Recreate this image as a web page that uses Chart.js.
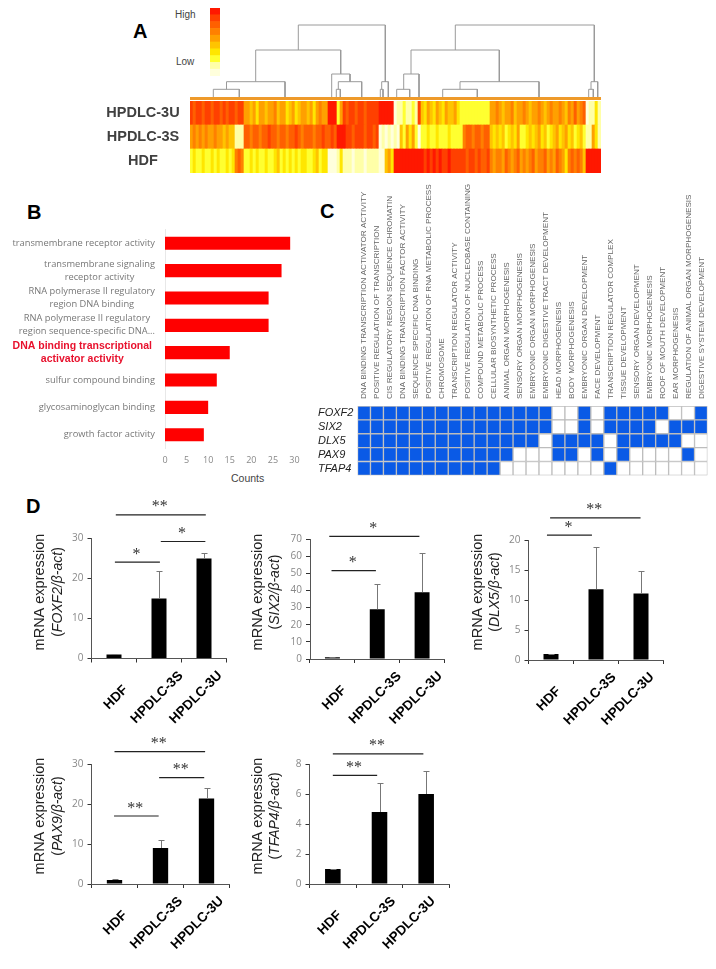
<!DOCTYPE html>
<html>
<head>
<meta charset="utf-8">
<script src="https://cdn.jsdelivr.net/npm/chart.js@4/dist/chart.umd.min.js"></script>
<style>
  html, body { margin: 0; background: #fff; }
  #page { position: relative; width: 716px; height: 969px; overflow: hidden; font-family: "Liberation Sans", Arial, sans-serif; }
  #page canvas { position: absolute; }
  .txt { position: absolute; white-space: nowrap; }
  .letter { font-weight: bold; font-size: 20px; color: #000; }
</style>
</head>
<body>
<div id="page">
  <div class="txt letter" style="left:133px;top:20px">A</div>
  <div class="txt letter" style="left:27px;top:201px">B</div>
  <div class="txt letter" style="left:320px;top:200px">C</div>
  <div class="txt letter" style="left:26px;top:495px">D</div>
  <div class="txt" style="left:175px;top:9px;font-size:10px;color:#444">High</div>
  <div class="txt" style="left:176px;top:56px;font-size:10px;color:#444">Low</div>
  <div class="txt" style="left:231px;top:472px;font-size:10.5px;color:#444">Counts</div>
</div>
<script>
// Panel A: heat levels 0-9, one value per column, grouped by block
const heatRows = ['HPDLC-3U', 'HPDLC-3S', 'HDF'];
const heat3U = [
  8,7,8,8,7,8,8,7,8,8,7,8,7,8,8,7,8,8,
  5,5,4,5,3,5,5,4,5,5,6,4,5,5,3,4,5,3,4,5,5,4,5,3,5,6,5,5,
  9,9,9,
  2,5,
  8,7,8,8,7,8,8,7,8,8,8,8,
  9,9,9,9,9,
  0,1,
  1,2,1,1,2,1,
  8,
  4,3,5,4,3,5,4,3,5,4,4,5,3,
  2,2,2,2,2,2,2,2,2,2,
  5,5,6,5,4,5,5,6,4,5,5,6,5,4,5,5,6,5,4,5,6,5,5,6,5,4,6,5,7,5,6,7,
  0,1,1,3,1
];
const heat3S = [
  5,6,5,6,5,6,5,5,6,5,5,4,5,4,4,1,1,1,
  7,7,6,7,7,6,7,7,8,7,7,6,7,7,6,7,7,8,7,6,7,7,7,6,7,7,8,7,
  7,8,7,
  9,9,
  9,8,8,7,8,8,8,7,8,8,7,8,
  0,1,0,1,0,
  1,0,
  4,2,5,3,5,2,
  0,
  2,2,3,2,2,3,2,2,2,3,2,2,2,
  2,6,7,7,6,7,7,6,7,7,
  4,3,4,3,4,2,3,4,3,5,2,2,3,4,3,4,5,3,4,2,3,4,5,3,4,5,3,4,2,3,4,2,
  1,1,5,3,1
];
const heatHDF = [
  2,3,2,2,3,2,2,3,2,3,2,2,3,2,3,6,7,6,
  2,2,3,2,3,2,2,3,2,2,3,4,2,3,2,3,2,3,2,3,3,2,2,3,4,2,3,3,
  0,0,0,
  1,3,
  1,1,1,0,1,1,1,0,1,1,1,1,
  0,0,4,5,3,
  9,9,
  9,9,9,9,9,9,
  9,
  9,8,9,8,9,8,9,8,8,9,8,8,8,
  8,8,7,8,8,7,8,7,7,8,
  6,5,6,6,5,7,6,5,6,7,5,6,5,6,7,5,6,6,7,5,6,5,7,6,5,3,6,7,6,7,6,4,
  9,9,9,9,9
];
const legendLevels = [9, 8, 7, 6, 5, 4, 3, 2, 1, 0];
// dendrogram joins: left leaf, right leaf, join height, left foot, right foot
const dendroMerges = [
  [23.3, 49.3, 7.7, 0, 0], [36.5, 95, 15.3, 7.7, 0],
  [146.3, 150.3, 7.7, 0, 0], [148.3, 171.7, 15.3, 7.7, 0], [141.7, 160, 23, 0, 15.3],
  [65.7, 150.7, 47, 15.3, 23],
  [190.3, 193, 7.7, 0, 0], [191.7, 198.3, 15.3, 7.7, 0],
  [108.3, 195.3, 72, 47, 15.3],
  [206.7, 219.7, 7.7, 0, 0], [213.7, 229, 23, 7.7, 0],
  [252.7, 287.3, 7.7, 0, 0], [270, 349, 15.3, 7.7, 0],
  [221, 309.3, 47, 23, 15.3],
  [398.7, 403.3, 7.7, 0, 0], [401, 407.7, 15.3, 7.7, 0],
  [265.3, 404.3, 72, 47, 15.3]
];

// Panel B
const goTerms = [
  ['transmembrane receptor activity'],
  ['transmembrane signaling', 'receptor activity'],
  ['RNA polymerase II regulatory', 'region DNA binding'],
  ['RNA polymerase II regulatory', 'region sequence-specific DNA...'],
  ['DNA binding transcriptional', 'activator activity'],
  ['sulfur compound binding'],
  ['glycosaminoglycan binding'],
  ['growth factor activity']
];
const goCounts = [29, 27, 24, 24, 15, 12, 10, 9];
const goHighlight = 4;

// Panel C
const enrichGenes = ['FOXF2', 'SIX2', 'DLX5', 'PAX9', 'TFAP4'];
const enrichTerms = [
  'DNA BINDING TRANSCRIPTION ACTIVATOR ACTIVITY', 'POSITIVE REGULATION OF TRANSCRIPTION',
  'CIS REGULATORY REGION SEQUENCE CHROMATIN', 'DNA BINDING TRANSCRIPTION FACTOR ACTIVITY',
  'SEQUENCE SPECIFIC DNA BINDING', 'POSITIVE REGULATION OF RNA METABOLIC PROCESS',
  'CHROMOSOME', 'TRANSCRIPTION REGULATOR ACTIVITY',
  'POSITIVE REGULATION OF NUCLEOBASE CONTAINING', 'COMPOUND METABOLIC PROCESS',
  'CELLULAR BIOSYNTHETIC PROCESS', 'ANIMAL ORGAN MORPHOGENESIS',
  'SENSORY ORGAN MORPHOGENESIS', 'EMBRYONIC ORGAN MORPHOGENESIS',
  'EMBRYONIC DIGESTIVE TRACT DEVELOPMENT', 'HEAD MORPHOGENESIS',
  'BODY MORPHOGENESIS', 'EMBRYONIC ORGAN DEVELOPMENT',
  'FACE DEVELOPMENT', 'TRANSCRIPTION REGULATOR COMPLEX',
  'TISSUE DEVELOPMENT', 'SENSORY ORGAN DEVELOPMENT',
  'EMBRYONIC MORPHOGENESIS', 'ROOF OF MOUTH DEVELOPMENT',
  'EAR MORPHOGENESIS', 'REGULATION OF ANIMAL ORGAN MORPHOGENESIS',
  'DIGESTIVE SYSTEM DEVELOPMENT'
];
const cellsFOXF2 = [1,1,1,1,1,1,1,1,1,1,1,1,1,1,1,0,0,1,0,1,1,1,1,1,0,0,1];
const cellsSIX2  = [1,1,1,1,1,1,1,1,1,1,1,1,1,1,1,0,0,1,0,1,1,1,1,0,1,1,1];
const cellsDLX5  = [1,1,1,1,1,1,1,1,1,1,1,1,1,1,0,1,1,1,1,0,1,1,1,1,1,0,0];
const cellsPAX9  = [1,1,1,1,1,1,1,1,1,1,1,1,0,0,0,1,1,0,1,0,1,0,0,0,0,1,0];
const cellsTFAP4 = [1,1,1,1,1,1,1,1,1,1,1,0,0,0,0,0,0,0,0,1,0,0,0,0,0,0,0];

// Panel D: means, top of error bar, significance lines [from, to, value level, stars]
const groups = ['HDF', 'HPDLC-3S', 'HPDLC-3U'];
const foxf2Mean = [1, 15, 25];
const foxf2Top = [1.1, 22, 26.5];
const foxf2Sig = [[0.04, 2.04, 35.9, '**'], [1.04, 2.03, 29.25, '*'], [0.02, 1.02, 24.1, '*']];
const six2Mean = [1, 29, 39];
const six2Top = [1.2, 44, 62];
const six2Sig = [[-0.07, 1.94, 71.5, '*'], [-0.02, 0.97, 51.6, '*']];
const dlx5Mean = [1, 11.8, 11.1];
const dlx5Top = [1.05, 18.8, 14.9];
const dlx5Sig = [[-0.02, 1.99, 23.7, '**'], [-0.09, 0.91, 20.8, '*']];
const pax9Mean = [1, 9, 21.4];
const pax9Top = [1.2, 11, 24.1];
const pax9Sig = [[0, 1.97, 33.1, '**'], [0.97, 1.95, 26.6, '**'], [-0.01, 0.96, 17, '**']];
const tfap4Mean = [1, 4.8, 6];
const tfap4Top = [1.02, 6.75, 7.55];
const tfap4Sig = [[0, 1.94, 8.67, '**'], [0, 0.95, 7.24, '**']];

const heatColors = ['#FFFFDC', '#FFFFA8', '#FFFF30', '#FFE600', '#FFC400', '#FFA000', '#FF8000', '#FF6000', '#FF4000', '#FF1800'];
const SANS = '"Liberation Sans", Arial, sans-serif';
const TICK = '"Open Sans", sans-serif';

Chart.defaults.animation = false;
Chart.defaults.responsive = false;
Chart.defaults.devicePixelRatio = 1;
Chart.defaults.plugins.legend.display = false;
Chart.defaults.plugins.tooltip.enabled = false;

function addCanvas(left, top, width, height) {
    const c = document.createElement('canvas');
    c.width = width;
    c.height = height;
    c.style.left = left + 'px';
    c.style.top = top + 'px';
    document.getElementById('page').appendChild(c);
    return c.getContext('2d');
}

// labels are clipped to the axis box, so the box gets the whole margin
const fixWidth = w => s => { s.width = w; };
const fixHeight = h => s => { s.height = h; };
const hiddenGrid = { display: false, drawTicks: false };

// legend colour bar
new Chart(addCanvas(210, 8, 10, 68), {
    type: 'bar',
    data: {
        labels: legendLevels,
        datasets: [{
            data: legendLevels.map(() => 1),
            backgroundColor: legendLevels.map(l => heatColors[l]),
            barPercentage: 1,
            categoryPercentage: 1
        }]
    },
    options: {
        indexAxis: 'y',
        layout: { autoPadding: false },
        scales: { x: { display: false, min: 0, max: 1 }, y: { display: false } }
    }
});

// dendrogram and the orange strip under it
new Chart(addCanvas(190, 24, 411, 76), {
    type: 'scatter',
    data: {
        datasets: dendroMerges.map(m => ({
            data: [{ x: m[0], y: m[3] }, { x: m[0], y: m[2] }, { x: m[1], y: m[2] }, { x: m[1], y: m[4] }],
            showLine: true,
            borderColor: '#9a9a9a',
            borderWidth: 1,
            pointRadius: 0,
            clip: false
        })).concat([{
            data: [{ x: 0, y: -1.5 }, { x: 411, y: -1.5 }],
            showLine: true,
            borderColor: '#EE9A2A',
            borderWidth: 3,
            pointRadius: 0
        }])
    },
    options: {
        layout: { autoPadding: false },
        scales: { x: { display: false, min: 0, max: 411 }, y: { display: false, min: -3, max: 73 } }
    }
});

// heat map: stacked columns, one colour per level, row names drawn beside the scale
const heatSeries = [heatHDF, heat3S, heat3U];
const heatLabelPlugin = {
    id: 'heatLabels',
    afterDraw(chart) {
        const ctx = chart.ctx;
        const y = chart.scales.y;
        ctx.save();
        ctx.font = 'bold 14.5px ' + SANS;
        ctx.fillStyle = '#404040';
        ctx.textAlign = 'center';
        ctx.textBaseline = 'middle';
        heatRows.forEach((name, i) => ctx.fillText(name, 53, y.getPixelForValue(2.5 - i)));
        ctx.restore();
    }
};
new Chart(addCanvas(90, 100, 511, 74), {
    type: 'bar',
    data: {
        labels: heat3U.map((_, i) => i),
        datasets: heatSeries.map(row => ({
            data: row.map(() => 1),
            backgroundColor: row.map(l => heatColors[l]),
            barPercentage: 1,
            categoryPercentage: 1
        }))
    },
    options: {
        layout: { autoPadding: false, padding: { left: 100, top: 1, bottom: 1 } },
        scales: {
            x: { display: false, stacked: true },
            y: { display: false, stacked: true, min: 0, max: 3 }
        }
    },
    plugins: [heatLabelPlugin]
});

// Panel B labels: block sits right aligned, lines centred inside it
const goLabelPlugin = {
    id: 'goLabels',
    afterDraw(chart) {
        const ctx = chart.ctx;
        const y = chart.scales.y;
        const right = y.right - 10;
        ctx.save();
        ctx.textAlign = 'center';
        ctx.textBaseline = 'middle';
        goTerms.forEach((lines, i) => {
            const on = i === goHighlight;
            ctx.font = on ? 'bold 10.5px ' + SANS : '9.3px ' + TICK;
            ctx.fillStyle = on ? '#E8112D' : '#777';
            const w = Math.max(...lines.map(l => ctx.measureText(l).width));
            const cx = right - (on ? 3 : 0) - w / 2;
            const cy = y.getPixelForTick(i);
            lines.forEach((l, k) => ctx.fillText(l, cx, cy + (k - (lines.length - 1) / 2) * 13));
        });
        ctx.restore();
    }
};
new Chart(addCanvas(0, 220, 320, 250), {
    type: 'bar',
    data: {
        labels: goTerms.map(t => t.join(' ')),
        datasets: [{ data: goCounts, backgroundColor: '#FF0000', barPercentage: 0.48, categoryPercentage: 1 }]
    },
    options: {
        indexAxis: 'y',
        layout: { autoPadding: false, padding: { right: 25.5, top: 9.6 } },
        scales: {
            x: {
                min: 0,
                max: 30,
                afterFit: fixHeight(21.6),
                grid: hiddenGrid,
                border: { display: false },
                ticks: { stepSize: 5, padding: 7, color: '#888', font: { family: TICK, size: 9 } }
            },
            y: {
                afterFit: fixWidth(165),
                grid: hiddenGrid,
                border: { color: '#e8e8e8' },
                ticks: { display: false }
            }
        }
    },
    plugins: [goLabelPlugin]
});

// Panel C: stacked cells, white where the gene is not in the term
const enrichCells = [cellsTFAP4, cellsPAX9, cellsDLX5, cellsSIX2, cellsFOXF2];
new Chart(addCanvas(318, 176, 398, 309), {
    type: 'bar',
    data: {
        labels: enrichTerms,
        datasets: enrichCells.map(row => ({
            data: row.map(() => 1),
            backgroundColor: row.map(v => (v ? '#0A5AE6' : '#FFFFFF')),
            borderColor: '#BDBDBD',
            borderWidth: 1,
            borderSkipped: false,
            barPercentage: 1,
            categoryPercentage: 1
        }))
    },
    options: {
        layout: { autoPadding: false, padding: { right: 8.5, bottom: 7 } },
        scales: {
            x: {
                position: 'top',
                stacked: true,
                afterFit: fixHeight(230),
                grid: hiddenGrid,
                border: { display: false },
                ticks: {
                    autoSkip: false,
                    minRotation: 90,
                    maxRotation: 90,
                    padding: 7,
                    labelOffset: 10,
                    color: '#666',
                    font: { family: SANS, size: 8.1 }
                }
            },
            y: {
                stacked: true,
                min: 0,
                max: 5,
                afterFit: fixWidth(39.5),
                afterBuildTicks: s => { s.ticks = [4.5, 3.5, 2.5, 1.5, 0.5].map(v => ({ value: v })); },
                grid: hiddenGrid,
                border: { display: false },
                ticks: {
                    autoSkip: false,
                    crossAlign: 'far',
                    color: '#222',
                    font: { family: SANS, size: 11, style: 'italic' },
                    callback: v => enrichGenes[4.5 - v]
                }
            }
        }
    }
});

// Panel D: error bars, significance lines, two line axis title, slanted group names
function exprPlugin(tops, sig, gene, titleAt, nameShift) {
    return {
        id: 'exprMarks',
        afterDraw(chart) {
            const ctx = chart.ctx;
            const x = chart.scales.x;
            const y = chart.scales.y;
            ctx.save();

            ctx.strokeStyle = '#777';
            ctx.lineWidth = 1;
            tops.forEach((t, i) => {
                const px = Math.round(x.getPixelForTick(i)) + 0.5;
                const base = y.getPixelForValue(chart.data.datasets[0].data[i]);
                const py = Math.round(y.getPixelForValue(t)) + 0.5;
                ctx.beginPath();
                ctx.moveTo(px, base);
                ctx.lineTo(px, py);
                ctx.moveTo(px - 3, py);
                ctx.lineTo(px + 3, py);
                ctx.stroke();
            });

            sig.forEach(s => {
                const x0 = x.getPixelForValue(s[0]);
                const x1 = x.getPixelForValue(s[1]);
                const py = y.getPixelForValue(s[2]);
                ctx.strokeStyle = '#222';
                ctx.lineWidth = 1.2;
                ctx.beginPath();
                ctx.moveTo(x0, py);
                ctx.lineTo(x1, py);
                ctx.stroke();
                ctx.fillStyle = '#333';
                ctx.textAlign = 'center';
                ctx.textBaseline = 'alphabetic';
                ctx.font = '16px "Liberation Serif", serif';
                ctx.fillText(s[3], (x0 + x1) / 2 - 1, py - 3.5);
            });

            groups.forEach((name, i) => {
                ctx.save();
                ctx.translate(x.getPixelForTick(i) + nameShift[i], chart.chartArea.bottom + 39);
                ctx.rotate(-Math.PI / 4);
                ctx.font = 'bold 13.5px ' + SANS;
                ctx.fillStyle = '#000';
                ctx.textAlign = 'center';
                ctx.textBaseline = 'middle';
                ctx.fillText(name, 0, 0);
                ctx.restore();
            });

            ctx.translate(0, titleAt[2]);
            ctx.rotate(-Math.PI / 2);
            ctx.fillStyle = '#222';
            ctx.textBaseline = 'middle';
            ctx.textAlign = 'center';
            ctx.font = '14.5px ' + SANS;
            ctx.fillText('mRNA expression', 0, titleAt[0]);
            const parts = [['(', '14px ' + SANS], [gene + '/β-act', 'italic 14px ' + SANS], [')', '14px ' + SANS]];
            const widths = parts.map(p => { ctx.font = p[1]; return ctx.measureText(p[0]).width; });
            let at = -widths.reduce((a, b) => a + b, 0) / 2;
            ctx.textAlign = 'left';
            parts.forEach((p, i) => {
                ctx.font = p[1];
                ctx.fillText(p[0], at, titleAt[1]);
                at += widths[i];
            });
            ctx.restore();
        }
    };
}

function exprChart(box, area, gene, means, tops, sig, yMax, step, titleAt, nameShift) {
    new Chart(addCanvas(box[0], box[1], box[2], box[3]), {
        type: 'bar',
        data: {
            labels: groups,
            datasets: [{ data: means, backgroundColor: '#000', barPercentage: 1 / 3, categoryPercentage: 1 }]
        },
        options: {
            layout: {
                autoPadding: false,
                padding: {
                    top: area[1] - box[1],
                    right: box[0] + box[2] - area[2]
                }
            },
            scales: {
                x: {
                    afterFit: fixHeight(box[1] + box[3] - area[3]),
                    grid: { drawOnChartArea: false, tickLength: 4, tickColor: '#333' },
                    border: { color: '#555' },
                    ticks: { display: false }
                },
                y: {
                    min: 0,
                    max: yMax,
                    afterFit: fixWidth(area[0] - box[0]),
                    grid: { drawOnChartArea: false, tickLength: 4, tickColor: '#333' },
                    border: { color: '#555' },
                    ticks: { stepSize: step, padding: 4, color: '#888', font: { family: TICK, size: 10 } }
                }
            }
        },
        plugins: [exprPlugin(tops, sig, gene, titleAt, nameShift)]
    });
}

exprChart([0, 495, 240, 235], [91.5, 538.5, 226.5, 658.5], 'FOXF2', foxf2Mean, foxf2Top, foxf2Sig, 30, 10, [40, 58, 97], [2, -2, -8]);
exprChart([240, 495, 220, 235], [310, 539, 444.5, 659], 'SIX2', six2Mean, six2Top, six2Sig, 70, 10, [18, 35, 97], [2, -2, -6]);
exprChart([465, 495, 220, 235], [528.5, 540, 663.5, 660], 'DLX5', dlx5Mean, dlx5Top, dlx5Sig, 20, 5, [13, 30, 97], [-2, -6, -13]);
exprChart([0, 730, 240, 235], [91.5, 764, 229.5, 884], 'PAX9', pax9Mean, pax9Top, pax9Sig, 30, 10, [40, 58, 86], [1, -4, -9]);
exprChart([240, 730, 225, 235], [309.5, 764, 449.5, 884], 'TFAP4', tfap4Mean, tfap4Top, tfap4Sig, 8, 2, [18, 35, 86], [-3, -10, -17]);
</script>
</body>
</html>
